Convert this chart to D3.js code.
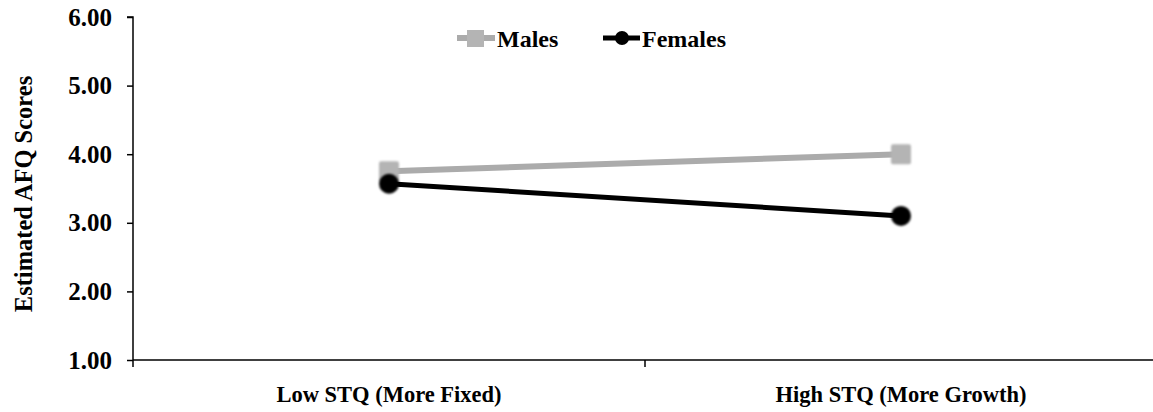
<!DOCTYPE html>
<html><head><meta charset="utf-8">
<script src="https://cdn.jsdelivr.net/npm/d3@7"></script>
<style>body{margin:0;background:#fff;} text{font-family:"Liberation Serif","Times New Roman",serif;font-weight:bold;}</style>
</head><body>
<svg id="chart" width="1153" height="412"></svg>
<script>
const categories = ["Low STQ (More Fixed)", "High STQ (More Growth)"];
const males = [3.75, 4.00];
const females = [3.57, 3.10];
const yTicks = [1, 2, 3, 4, 5, 6];
const seriesNames = ["Males", "Females"];

const svg = d3.select("#chart");
const mLeft = 133, mRight = 1157, mTop = 17, mBottom = 360;
const x = d3.scaleBand().domain(categories).range([mLeft, mRight]);
const y = d3.scaleLinear().domain([1, 6]).range([mBottom, mTop]);

const defs = svg.append("defs");
const f = defs.append("filter").attr("id","soft").attr("x","-50%").attr("y","-50%").attr("width","200%").attr("height","200%");
f.append("feGaussianBlur").attr("stdDeviation", 0.9);

// Y axis
const ya = svg.append("g").attr("transform", `translate(${mLeft},0)`)
  .call(d3.axisLeft(y).tickValues(yTicks).tickSize(6).tickFormat(d3.format(".2f")));
ya.select(".domain").attr("stroke","#000").attr("stroke-width",1.5).attr("d", `M-6,${mTop}H0V${mBottom}`);
ya.selectAll(".tick line").attr("stroke","#000").attr("stroke-width",1.5);
ya.selectAll(".tick text").attr("x",-21).attr("font-size",25).attr("fill","#000").attr("font-family","Liberation Serif").attr("font-weight","bold");

// X axis
const xa = svg.append("g").attr("transform", `translate(0,${mBottom})`)
  .call(d3.axisBottom(x).tickSize(0).tickFormat(d=>d));
xa.select(".domain").attr("stroke","#000").attr("stroke-width",1.5).attr("d", `M${mLeft},0H${mRight}`);
xa.selectAll(".tick text").attr("y",26).attr("font-size",22.5).attr("fill","#000").attr("font-family","Liberation Serif").attr("font-weight","bold");
const bounds = [mLeft, mLeft + x.bandwidth()];
svg.append("g").selectAll("line").data(bounds).join("line")
  .attr("x1",d=>d).attr("x2",d=>d).attr("y1",mBottom).attr("y2",mBottom+7)
  .attr("stroke","#000").attr("stroke-width",1.5);

// Y title
svg.append("text").attr("transform", `translate(32,194) rotate(-90)`)
  .attr("text-anchor","middle").attr("font-size",24.5).text("Estimated AFQ Scores");

const cx = d => x(d) + x.bandwidth()/2;
const line = d3.line().x((d,i)=>cx(categories[i])).y(d=>y(d));

// Males
svg.append("path").datum(males).attr("d", line).attr("fill","none").attr("stroke","#ababab").attr("stroke-width",6);
svg.append("g").selectAll("rect").data(males).join("rect")
  .attr("x",(d,i)=>cx(categories[i])-10).attr("y",d=>y(d)-10).attr("width",20).attr("height",20)
  .attr("rx",2).attr("fill","#b4b4b4").attr("filter","url(#soft)");

// Females
svg.append("path").datum(females).attr("d", line).attr("fill","none").attr("stroke","#000").attr("stroke-width",5);
svg.append("g").selectAll("circle").data(females).join("circle")
  .attr("cx",(d,i)=>cx(categories[i])).attr("cy",d=>y(d)).attr("r",10).attr("fill","#000").attr("filter","url(#soft)");

// Legend
const lg = svg.append("g");
lg.append("line").attr("x1",457).attr("x2",495).attr("y1",38).attr("y2",38).attr("stroke","#ababab").attr("stroke-width",6);
lg.append("rect").attr("x",467).attr("y",30).attr("width",17).attr("height",17).attr("fill","#b4b4b4");
lg.append("text").attr("x",497).attr("y",47).attr("font-size",24).text(seriesNames[0]);
lg.append("line").attr("x1",603).attr("x2",640).attr("y1",38).attr("y2",38).attr("stroke","#000").attr("stroke-width",5);
lg.append("circle").attr("cx",622).attr("cy",38).attr("r",7).attr("fill","#000");
lg.append("text").attr("x",642).attr("y",47).attr("font-size",24).text(seriesNames[1]);
</script>
</body></html>
